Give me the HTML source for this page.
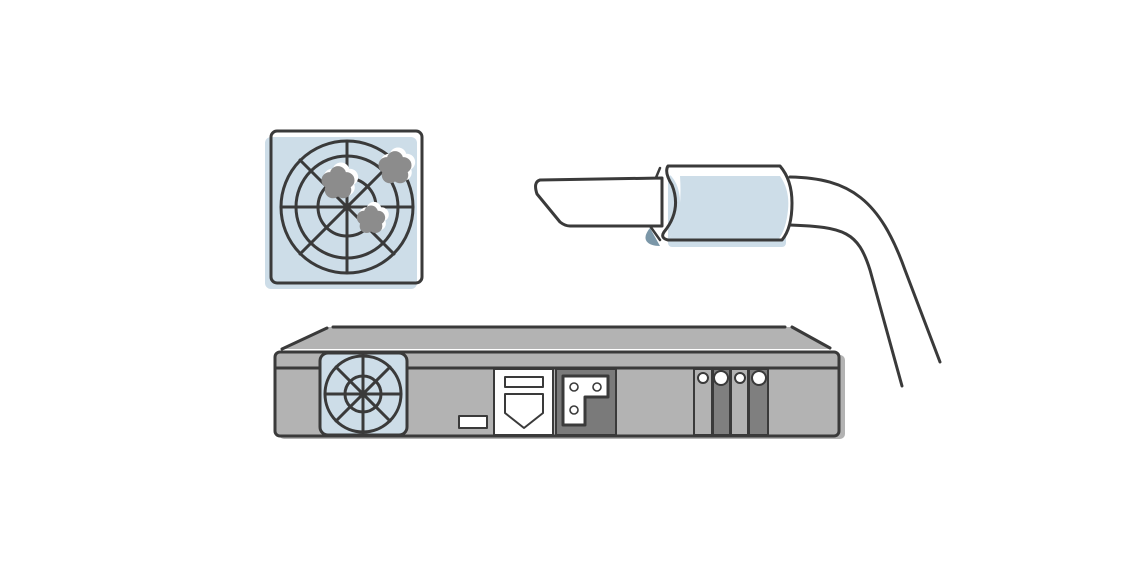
<!DOCTYPE html>
<html><head><style>html,body{margin:0;padding:0;background:#fff;}svg{display:block}</style></head>
<body>
<svg width="1124" height="580" viewBox="0 0 1124 580" xmlns="http://www.w3.org/2000/svg">
<defs>
<g id="fl">
<circle cx="0" cy="-7" r="6.5"/><circle cx="6.7" cy="-2.2" r="6.5"/><circle cx="4.1" cy="5.7" r="6.5"/><circle cx="-4.1" cy="5.7" r="6.5"/><circle cx="-6.7" cy="-2.2" r="6.5"/><circle cx="0" cy="0" r="7"/>
</g>
</defs>
<g stroke="#3a3a3a" stroke-width="3" fill="none" stroke-linecap="round" stroke-linejoin="round">
<!-- fan icon -->
<rect x="265" y="137" width="152" height="152" rx="6" fill="#cddde8" stroke="none"/>
<rect x="271" y="131" width="151" height="152" rx="6"/>
<circle cx="347" cy="207" r="66"/>
<circle cx="347" cy="207" r="51"/>
<circle cx="347" cy="207" r="29"/>
<line x1="347" y1="141" x2="347" y2="273"/>
<line x1="281" y1="207" x2="413" y2="207"/>
<line x1="300" y1="160" x2="394" y2="254"/>
<line x1="300" y1="254" x2="394" y2="160"/>
<g stroke="none">
<g fill="#fff">
<use href="#fl" transform="translate(341,180) scale(1.3)"/>
<use href="#fl" transform="translate(398,165) scale(1.3)"/>
<use href="#fl" transform="translate(374,217) scale(1.12)"/>
</g>
<g fill="#8c8c8c">
<use href="#fl" transform="translate(338,183) scale(1.25)"/>
<use href="#fl" transform="translate(395,168) scale(1.25)"/>
<use href="#fl" transform="translate(371,220) scale(1.07)"/>
</g>
</g>
<!-- device -->
<polygon points="282,349 327,327 792,327 830,349" fill="#b3b3b3" stroke="none"/>
<line x1="282" y1="349" x2="327" y2="328"/>
<line x1="333" y1="327" x2="785" y2="327"/>
<line x1="792" y1="327" x2="830" y2="348"/>
<rect x="279" y="355" width="566" height="84" rx="5" fill="#b3b3b3" stroke="none"/>
<rect x="275" y="352" width="564" height="84" rx="5" fill="#b3b3b3"/>
<line x1="275" y1="368" x2="839" y2="368"/>
<rect x="320" y="353" width="87" height="82" rx="8" fill="#cddde8"/>
<circle cx="363" cy="394" r="38"/>
<circle cx="363" cy="394" r="18"/>
<line x1="363" y1="356" x2="363" y2="432"/>
<line x1="325" y1="394" x2="401" y2="394"/>
<line x1="336" y1="367" x2="390" y2="421"/>
<line x1="336" y1="421" x2="390" y2="367"/>
<rect x="459" y="416" width="28" height="12" fill="#fff" stroke-width="2"/>
<rect x="494" y="369" width="59" height="66" fill="#fff" stroke-width="2"/>
<rect x="505" y="377" width="38" height="10" fill="#fff" stroke-width="2"/>
<polygon points="505,394 543,394 543,413 524,428 505,413" fill="#fff" stroke-width="2"/>
<rect x="556" y="369" width="60" height="66" fill="#7a7a7a" stroke-width="2"/>
<polygon points="563,376 608,376 608,397 585,397 585,425 563,425" fill="#fff"/>
<g stroke-width="1.6" fill="#fff"><circle cx="574" cy="387" r="4"/><circle cx="597" cy="387" r="4"/><circle cx="574" cy="410" r="4"/></g>
<g stroke-width="2">
<rect x="694" y="369" width="18" height="66" fill="#b3b3b3"/>
<rect x="713" y="369" width="17" height="66" fill="#7f7f7f"/>
<rect x="731" y="369" width="17" height="66" fill="#b3b3b3"/>
<rect x="749" y="369" width="19" height="66" fill="#7f7f7f"/>
<circle cx="703" cy="378" r="5" fill="#fff"/>
<circle cx="721" cy="378" r="7" fill="#fff"/>
<circle cx="740" cy="378" r="5" fill="#fff"/>
<circle cx="759" cy="378" r="7" fill="#fff"/>
</g>
<!-- cable -->
<path d="M790,177 C850,178 880,200 905,270 L940,362"/>
<path d="M790,225 C845,227 858,232 870,270 L902,386"/>
<path d="M650,228 C640,240 648,246 660,246" fill="#7b97a8" stroke="none"/>
<path d="M660,168 L655,180 L650,226 L660,240" stroke-width="2.5"/>
<path d="M540,180 L662,178 L662,226 L570,226 Q565,226 560,222 L537,194 Q533,182 540,180 Z" fill="#fff"/>
<rect x="668" y="175" width="118" height="72" rx="4" fill="#cddde8" stroke="none"/>
<path d="M668,166 L780,166 Q792,180 792,203 Q792,228 782,240 L668,240 Q682,222 680,203 Q680,180 664,170 Z" fill="#fff" stroke="none"/>
<path d="M680,176 L780,176 Q790,190 788,210 Q786,230 778,240 L668,240 Q683,222 680,176 Z" fill="#cddde8" stroke="none"/>
<path d="M668,166 L780,166 Q792,180 792,203 Q792,228 782,240 L668,240 Q660,238 664,232 Q682,210 672,185 Q664,172 668,166 Z"/>
</g>
</svg>
</body></html>
